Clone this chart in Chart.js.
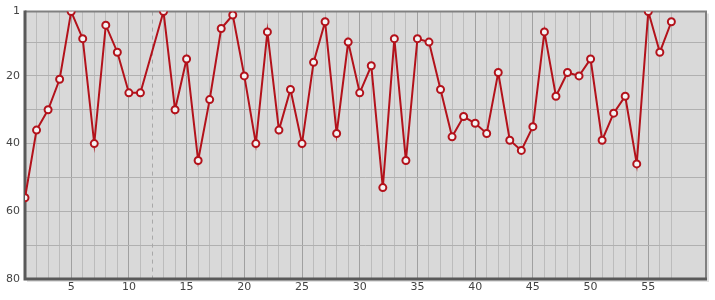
<!DOCTYPE html>
<html>
<head>
<meta charset="utf-8">
<script src="https://cdn.jsdelivr.net/npm/chart.js@4/dist/chart.umd.min.js"></script>
<style>
  html, body { margin: 0; padding: 0; background: #ffffff; }
  #wrap { width: 715px; height: 300px; position: relative; }
</style>
</head>
<body>
<div id="wrap"><canvas id="rankChart"></canvas></div>
<script>
// rank per day (lower is better), day 12 has no value
const days = [1, 2, 3, 4, 5, 6, 7, 8, 9, 10, 11, 12, 13, 14, 15, 16, 17, 18, 19, 20,
              21, 22, 23, 24, 25, 26, 27, 28, 29, 30, 31, 32, 33, 34, 35, 36, 37, 38, 39, 40,
              41, 42, 43, 44, 45, 46, 47, 48, 49, 50, 51, 52, 53, 54, 55, 56, 57];
const ranks = [56, 36, 30, 21, 1, 9, 40, 5, 13, 25, 25, null, 1, 30, 15, 45, 27, 6, 2, 20,
               40, 7, 36, 24, 40, 16, 4, 37, 10, 25, 17, 53, 9, 45, 9, 10, 24, 38, 32, 34,
               37, 19, 39, 42, 35, 7, 26, 19, 20, 15, 39, 31, 26, 46, 1, 13, 4];
const xTickLabels = [5, 10, 15, 20, 25, 30, 35, 40, 45, 50, 55];
const yTickLabels = [1, 20, 40, 60, 80];
const yGridValues = [1, 10, 20, 30, 40, 50, 60, 70, 80];
const markedDay = 12;

const lineRed = "#b3121b";

// plot background, dashed marker and frame
const frame = {
    id: "frame",
    beforeDraw(chart) {
        const a = chart.chartArea, c = chart.ctx;
        c.save();
        c.fillStyle = "#d9d9d9";
        c.fillRect(a.left, a.top, a.right - a.left, a.bottom - a.top);
        c.restore();
    },
    beforeDatasetsDraw(chart) {
        const a = chart.chartArea, c = chart.ctx;
        const mx = Math.round(chart.scales.x.getPixelForValue(markedDay)) + 0.5;
        c.save();
        c.strokeStyle = "#a8a8a8";
        c.lineWidth = 1;
        c.setLineDash([4, 4]);
        c.beginPath();
        c.moveTo(mx, a.top);
        c.lineTo(mx, a.bottom);
        c.stroke();
        c.setLineDash([]);
        // soft shadow right/bottom
        c.strokeStyle = "rgba(0,0,0,0.12)";
        c.lineWidth = 2;
        c.beginPath();
        c.moveTo(a.left + 2, a.bottom + 2);
        c.lineTo(a.right + 2, a.bottom + 2);
        c.lineTo(a.right + 2, a.top + 2);
        c.stroke();
        c.strokeStyle = "#808080";
        c.lineWidth = 2;
        c.beginPath();
        c.moveTo(a.left, a.top);
        c.lineTo(a.right, a.top);
        c.lineTo(a.right, a.bottom);
        c.stroke();
        c.strokeStyle = "#595959";
        c.lineWidth = 3;
        c.beginPath();
        c.moveTo(a.left, a.top - 1);
        c.lineTo(a.left, a.bottom);
        c.lineTo(a.right + 1, a.bottom);
        c.stroke();
        c.restore();
    }
};

const ctx = document.getElementById("rankChart").getContext("2d");
new Chart(ctx, {
    type: "line",
    data: {
        datasets: [{
            data: days.map((d, i) => ({ x: d, y: ranks[i] })),
            borderColor: lineRed,
            borderWidth: 2,
            pointRadius: 3.5,
            pointBorderWidth: 2,
            pointBorderColor: lineRed,
            pointBackgroundColor: "#f4f4f4",
            spanGaps: true,
            tension: 0
        }]
    },
    options: {
        responsive: true,
        maintainAspectRatio: false,
        animation: false,
        layout: { padding: { top: 10, right: 9, left: 0, bottom: 0 } },
        plugins: { legend: { display: false }, tooltip: { enabled: false } },
        scales: {
            x: {
                type: "linear",
                min: 1,
                max: 60,
                afterBuildTicks: s => { s.ticks = days.map(d => ({ value: d })); },
                afterFit: s => { s.height = 21; },
                ticks: {
                    autoSkip: false,
                    maxRotation: 0,
                    padding: 2,
                    color: "#444",
                    font: { family: "DejaVu Sans", size: 11 },
                    callback: v => xTickLabels.includes(v) ? String(v) : ""
                },
                grid: {
                    drawTicks: false,
                    color: c => {
                        const v = c.tick && c.tick.value;
                        if (v === 1 || v === markedDay) return "rgba(0,0,0,0)";
                        return v % 5 === 0 ? "#a0a0a0" : "#bcbcbc";
                    },
                    lineWidth: 1
                },
                border: { display: false }
            },
            y: {
                type: "linear",
                reverse: true,
                min: 1,
                max: 80,
                afterBuildTicks: s => { s.ticks = yGridValues.map(v => ({ value: v })); },
                afterFit: s => { s.width = 25; },
                ticks: {
                    autoSkip: false,
                    padding: 5,
                    color: "#444",
                    font: { family: "DejaVu Sans", size: 11 },
                    callback: v => yTickLabels.includes(v) ? String(v) : ""
                },
                grid: {
                    drawTicks: false,
                    color: c => {
                        const v = c.tick && c.tick.value;
                        return (v === 1 || v === 80) ? "rgba(0,0,0,0)" : "#b0b0b0";
                    },
                    lineWidth: 1
                },
                border: { display: false }
            }
        }
    },
    plugins: [frame]
});
</script>
</body>
</html>
